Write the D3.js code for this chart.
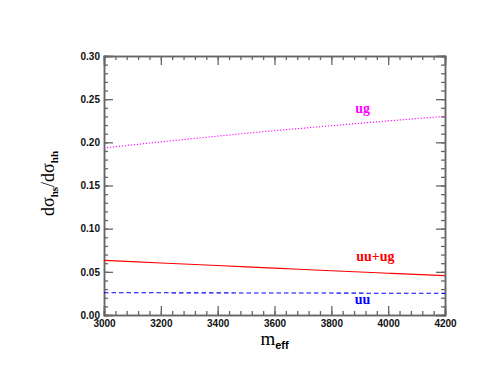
<!DOCTYPE html>
<html>
<head>
<meta charset="utf-8">
<script src="https://cdn.jsdelivr.net/npm/d3@7"></script>
<style>
body { margin: 0; background: #fff; }
.tick text { font-family: "Liberation Sans", Arial, sans-serif; font-size: 10px; font-weight: bold; fill: #111; }
</style>
</head>
<body>
<svg id="chart"></svg>
<script>
// ratio des sections efficaces en fonction de m_eff
var margin = {top: 56, right: 57, bottom: 73, left: 104},
width = 502 - margin.left - margin.right,
height = 388 - margin.top - margin.bottom;

const meff = [3000, 3200, 3400, 3600, 3800, 4000, 4200];
const ug = [0.1935, 0.2005, 0.2072, 0.2135, 0.2192, 0.2248, 0.2302];
const uuug = [0.0633, 0.0603, 0.0573, 0.0543, 0.0513, 0.0484, 0.0456];
const uu = [0.0258, 0.0257, 0.0256, 0.0255, 0.0254, 0.0252, 0.0251];

const xTicks = [3000, 3200, 3400, 3600, 3800, 4000, 4200];
const yTicks = [0.00, 0.05, 0.10, 0.15, 0.20, 0.25, 0.30];

const series = [
    {name: "ug", values: ug, color: "#ff00ff", dash: "1.2,1.8", lx: 3910, ly: 0.2335},
    {name: "uu+ug", values: uuug, color: "#ff0000", dash: null, lx: 3955, ly: 0.0625},
    {name: "uu", values: uu, color: "#0000ff", dash: "4.5,3", lx: 3910, ly: 0.0125}
];

const svg = d3.select("#chart")
.attr("width", width + margin.left + margin.right)
.attr("height", height + margin.top + margin.bottom);
const g = svg.append("g").attr("transform", `translate(${margin.left},${margin.top})`);

const x = d3.scaleLinear().domain([3000, 4200]).range([0, width]);
const y = d3.scaleLinear().domain([0, 0.30]).range([height, 0]);

const axisColor = "#666";
const minorX = d3.range(3000, 4201, 40);
const minorY = d3.range(0, 0.301, 0.01);

// ticks mineurs et majeurs, sur les quatre côtés (vers l'intérieur)
g.append("g").attr("transform", `translate(0,${height})`)
    .call(d3.axisTop(x).tickValues(minorX).tickSize(4).tickFormat(""));
g.append("g").attr("transform", `translate(0,${height})`)
    .call(d3.axisTop(x).tickValues(xTicks).tickSize(9).tickFormat(""));
g.append("g")
    .call(d3.axisBottom(x).tickValues(minorX).tickSize(4).tickFormat(""));
g.append("g")
    .call(d3.axisBottom(x).tickValues(xTicks).tickSize(9).tickFormat(""));
g.append("g")
    .call(d3.axisRight(y).tickValues(minorY).tickSize(4).tickFormat(""));
g.append("g")
    .call(d3.axisRight(y).tickValues(yTicks).tickSize(9).tickFormat(""));
g.append("g").attr("transform", `translate(${width},0)`)
    .call(d3.axisLeft(y).tickValues(minorY).tickSize(4).tickFormat(""));
g.append("g").attr("transform", `translate(${width},0)`)
    .call(d3.axisLeft(y).tickValues(yTicks).tickSize(9).tickFormat(""));

// étiquettes
g.append("g").attr("transform", `translate(0,${height})`)
    .call(d3.axisBottom(x).tickValues(xTicks).tickSize(0).tickPadding(5).tickFormat(d3.format("d")))
    .call(a => a.select(".domain").remove());
g.append("g").attr("transform", "translate(-1,0)")
    .call(d3.axisLeft(y).tickValues(yTicks).tickSize(0).tickPadding(3).tickFormat(d3.format(".2f")))
    .call(a => a.select(".domain").remove());

g.selectAll(".domain").attr("stroke", axisColor).attr("stroke-width", 1.5);
g.selectAll(".tick line").attr("stroke", axisColor).attr("stroke-width", 1.3);

// courbes
const line = d3.line().x((d, i) => x(meff[i])).y(d => y(d)).curve(d3.curveMonotoneX);
series.forEach(s => {
    g.append("path")
        .datum(s.values)
        .attr("d", line)
        .attr("fill", "none")
        .attr("stroke", s.color)
        .attr("stroke-width", 1.1)
        .attr("stroke-dasharray", s.dash);
    g.append("text")
        .attr("x", x(s.lx))
        .attr("y", y(s.ly))
        .attr("text-anchor", "middle")
        .attr("font-family", "'Liberation Serif', serif")
        .attr("font-weight", "bold")
        .attr("font-size", 14)
        .attr("fill", s.color)
        .text(s.name);
});

// titres des axes
const xl = svg.append("text")
    .attr("x", margin.left + width / 2)
    .attr("y", 345)
    .attr("text-anchor", "middle")
    .attr("font-family", "'Liberation Serif', serif")
    .attr("font-size", 19);
xl.append("tspan").text("m");
xl.append("tspan").attr("dy", 4).attr("font-size", 11).attr("font-weight", "bold")
    .attr("font-family", "'Liberation Sans', sans-serif").text("eff");

const yl = svg.append("text")
    .attr("transform", `translate(54,${margin.top + height / 2 - 2}) rotate(-90)`)
    .attr("text-anchor", "middle")
    .attr("font-family", "'Liberation Serif', serif")
    .attr("font-size", 18);
yl.append("tspan").text("dσ");
yl.append("tspan").attr("dy", 4).attr("font-size", 11).attr("font-weight", "bold").text("hs");
yl.append("tspan").attr("dy", -4).text("/dσ");
yl.append("tspan").attr("dy", 4).attr("font-size", 11).attr("font-weight", "bold").text("hh");
</script>
</body>
</html>
